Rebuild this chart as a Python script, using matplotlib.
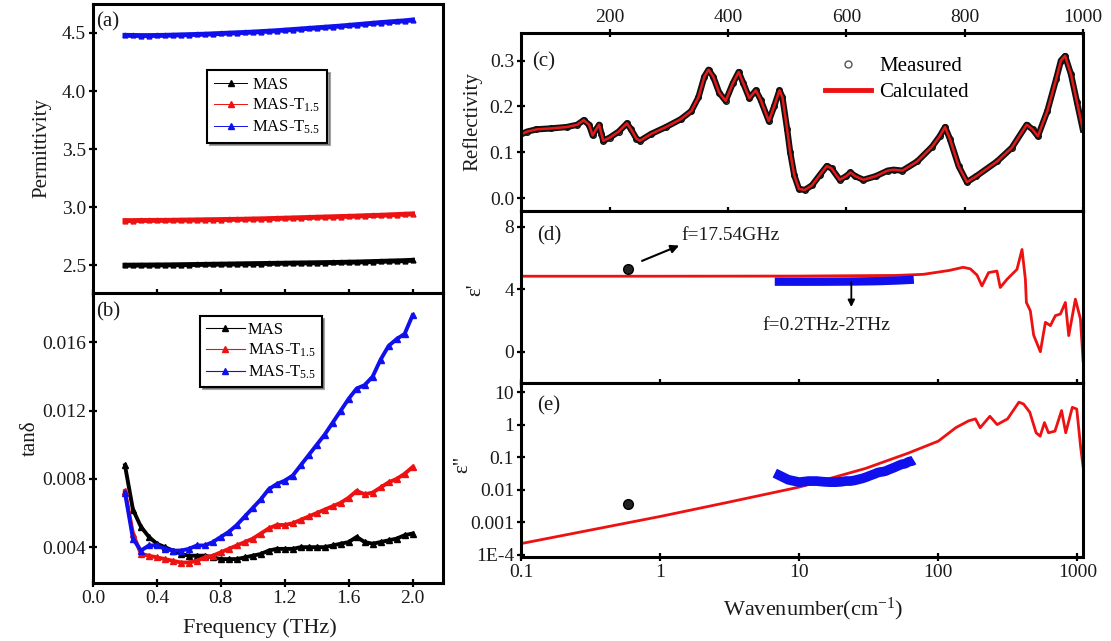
import matplotlib
matplotlib.use('Agg')
import matplotlib.pyplot as plt
from matplotlib.lines import Line2D
from matplotlib.ticker import FixedLocator, NullLocator, FixedFormatter

plt.rcParams['font.family'] = ['Liberation Serif', 'DejaVu Serif']
plt.rcParams['mathtext.fontset'] = 'custom'
plt.rcParams['mathtext.rm'] = 'Liberation Serif'
plt.rcParams['mathtext.it'] = 'Liberation Serif:italic'

# ---------------- data ----------------
freq_thz = [0.20, 0.25, 0.30, 0.35, 0.40, 0.45, 0.50, 0.55, 0.60, 0.65, 0.70, 0.75,
            0.80, 0.85, 0.90, 0.95, 1.00, 1.05, 1.10, 1.15, 1.20, 1.25, 1.30, 1.35,
            1.40, 1.45, 1.50, 1.55, 1.60, 1.65, 1.70, 1.75, 1.80, 1.85, 1.90, 1.95, 2.00]

perm_mas = [2.500, 2.500, 2.501, 2.501, 2.502, 2.502, 2.503, 2.504, 2.505, 2.506, 2.507, 2.508,
            2.509, 2.510, 2.511, 2.512, 2.513, 2.514, 2.515, 2.516, 2.517, 2.518, 2.519, 2.520,
            2.521, 2.522, 2.523, 2.524, 2.526, 2.527, 2.529, 2.531, 2.533, 2.535, 2.537, 2.539, 2.542]
perm_t15 = [2.884, 2.884, 2.885, 2.885, 2.886, 2.886, 2.887, 2.888, 2.889, 2.890, 2.891, 2.892,
            2.893, 2.894, 2.895, 2.896, 2.898, 2.899, 2.901, 2.903, 2.905, 2.907, 2.909, 2.911,
            2.913, 2.915, 2.917, 2.919, 2.921, 2.923, 2.926, 2.928, 2.930, 2.933, 2.936, 2.939, 2.942]
perm_t55 = [4.480, 4.479, 4.478, 4.478, 4.479, 4.480, 4.482, 4.484, 4.486, 4.488, 4.490, 4.493,
            4.496, 4.499, 4.502, 4.505, 4.508, 4.512, 4.516, 4.520, 4.525, 4.530, 4.535, 4.540,
            4.545, 4.550, 4.555, 4.560, 4.566, 4.572, 4.578, 4.584, 4.590, 4.595, 4.600, 4.605, 4.612]

tan_mas = [0.0088, 0.0062, 0.0052, 0.0046, 0.0042, 0.0040, 0.0038, 0.0036, 0.0035, 0.0035, 0.0035, 0.0034,
           0.0033, 0.0033, 0.0033, 0.0034, 0.0035, 0.0036, 0.0038, 0.0039, 0.0039, 0.0039, 0.0040, 0.0040,
           0.0040, 0.0040, 0.0041, 0.0042, 0.0043, 0.0046, 0.0043, 0.0042, 0.0043, 0.0044, 0.0045, 0.0047, 0.0048]
tan_t15 = [0.0073, 0.0048, 0.0036, 0.0035, 0.0034, 0.0033, 0.0032, 0.0031, 0.0031, 0.0032, 0.0034, 0.0035,
           0.0037, 0.0039, 0.0041, 0.0043, 0.0045, 0.0048, 0.0051, 0.0053, 0.0053, 0.0054, 0.0056, 0.0058,
           0.0060, 0.0062, 0.0064, 0.0066, 0.0069, 0.0073, 0.0071, 0.0072, 0.0075, 0.0078, 0.0080, 0.0083, 0.0087]
tan_t55 = [0.0072, 0.0045, 0.0038, 0.0041, 0.0041, 0.0039, 0.0038, 0.0038, 0.0039, 0.0041, 0.0041, 0.0043,
           0.0046, 0.0049, 0.0053, 0.0058, 0.0063, 0.0068, 0.0074, 0.0077, 0.0079, 0.0082, 0.0088, 0.0094,
           0.0100, 0.0106, 0.0113, 0.0120, 0.0127, 0.0133, 0.0135, 0.0140, 0.0150, 0.0158, 0.0162, 0.0165, 0.0176]

series_labels = ['MAS', 'MAS-T$_{1.5}$', 'MAS-T$_{5.5}$']
series_colors = ['black', '#ee1111', '#1010ee']

# (c) reflectivity
refl_wn = [47, 60, 76, 100, 127, 145, 156, 165, 171, 177, 182, 186, 189, 200, 215, 229, 236, 245,
           251, 270, 295, 320, 338, 350, 360, 367, 375, 385, 396, 408, 418, 426, 436, 447, 455,
           469, 478, 487, 492, 500, 505, 512, 520, 530, 542, 555, 567, 575, 589, 600, 607, 615,
           629, 650, 670, 680, 695, 720, 745, 758, 767, 775, 790, 804, 820, 855, 880, 905, 915,
           924, 940, 955, 963, 970, 980, 990, 1000]
refl_val = [0.137, 0.145, 0.150, 0.152, 0.155, 0.160, 0.170, 0.160, 0.137, 0.150, 0.160, 0.140,
            0.125, 0.132, 0.145, 0.163, 0.150, 0.130, 0.125, 0.140, 0.155, 0.172, 0.190, 0.220,
            0.265, 0.280, 0.265, 0.230, 0.212, 0.250, 0.275, 0.250, 0.218, 0.235, 0.215, 0.168,
            0.200, 0.235, 0.220, 0.150, 0.101, 0.050, 0.020, 0.018, 0.028, 0.050, 0.070, 0.065,
            0.040, 0.048, 0.056, 0.048, 0.040, 0.048, 0.060, 0.062, 0.060, 0.080, 0.112, 0.135,
            0.155, 0.130, 0.070, 0.035, 0.048, 0.080, 0.110, 0.160, 0.150, 0.135, 0.190, 0.260,
            0.300, 0.310, 0.270, 0.210, 0.150]

# (d) real permittivity (calculated)
epsr_wn = [0.1, 1, 10, 50, 78, 120, 151, 170, 190, 206, 230, 264, 279, 312, 368, 400, 423, 430,
           459, 485, 542, 589, 640, 695, 755, 820, 867, 968, 1052, 1100]
epsr_val = [4.83, 4.83, 4.84, 4.88, 4.95, 5.20, 5.40, 5.30, 4.90, 4.21, 5.06, 5.16, 4.11, 4.63,
            5.27, 6.54, 4.63, 3.15, 2.62, 1.06, 0.00, 1.88, 1.67, 2.31, 2.41, 3.15, 1.03, 3.36,
            2.10, -0.60]

# (e) imaginary permittivity (calculated)
epsi_wn = [0.1, 0.3, 1, 3, 10, 30, 60, 100, 134, 165, 185, 200, 235, 265, 315, 380, 410, 455,
           505, 540, 580, 620, 690, 770, 825, 920, 990, 1055, 1100]
epsi_val = [2.2e-4, 5.5e-4, 1.5e-3, 4.0e-3, 0.012, 0.045, 0.13, 0.31, 0.81, 1.3, 1.5, 0.8, 1.8,
            1.0, 1.5, 4.9, 4.3, 2.4, 0.56, 0.44, 1.15, 0.56, 0.63, 2.7, 0.56, 3.4, 3.0, 0.21, 0.05]

# microwave point f = 17.54 GHz
mw_wn = 0.585
mw_epsr = 5.3
mw_epsi = 0.0035

THZ_TO_CM = 33.356

# ---------------- figure ----------------
fig = plt.figure(figsize=(11.11, 6.41), dpi=100)
axa = fig.add_axes([0.0837, 0.5429, 0.315, 0.4509])
axb = fig.add_axes([0.0837, 0.0905, 0.315, 0.4524])
axc = fig.add_axes([0.469, 0.6708, 0.5059, 0.2777])
axd = fig.add_axes([0.469, 0.4025, 0.5059, 0.2683])
axe = fig.add_axes([0.469, 0.1310, 0.5059, 0.2715])

TXT = '#1a1a1a'


def style(ax):
    for s in ax.spines.values():
        s.set_linewidth(2.2)
    ax.tick_params(direction='inout', length=6, width=1.6, labelsize=14,
                   labelcolor=TXT, pad=2)


for ax in (axa, axb, axc, axd, axe):
    style(ax)

# (a)
perm_all = [perm_mas, perm_t15, perm_t55]
for vals, c in zip(perm_all, series_colors):
    axa.plot(freq_thz, vals, color=c, lw=3.5, marker='^', ms=3.5)
axa.set_xlim(0, 2.19)
axa.set_ylim(2.26, 4.75)
axa.xaxis.set_major_locator(FixedLocator([0.0, 0.4, 0.8, 1.2, 1.6, 2.0]))
axa.set_xticklabels([])
axa.yaxis.set_major_locator(FixedLocator([2.5, 3.0, 3.5, 4.0, 4.5]))
axa.set_yticklabels(['2.5', '3.0', '3.5', '4.0', '4.5'])
axa.set_ylabel('Permittivity', fontsize=15, color=TXT)
axa.yaxis.set_label_coords(-0.118, 0.5)
axa.text(0.008, 0.938, '(a)', transform=axa.transAxes, fontsize=15, va='center', color=TXT)
h_a = [Line2D([], [], color=c, lw=0.7, marker='^', ms=5) for c in series_colors]
leg = axa.legend(h_a, series_labels, loc='upper left', bbox_to_anchor=(0.303, 0.80),
                 fontsize=12, frameon=True, fancybox=False, shadow=True, edgecolor='black',
                 framealpha=1, handlelength=2.0, borderpad=0.4, labelspacing=0.25,
                 handletextpad=0.3)
leg.get_frame().set_linewidth(1.5)

# (b)
tan_all = [tan_mas, tan_t15, tan_t55]
for vals, c in zip(tan_all, series_colors):
    axb.plot(freq_thz, vals, color=c, lw=2.8, marker='^', ms=4)
axb.set_xlim(0, 2.19)
axb.set_ylim(0.0019, 0.0189)
axb.xaxis.set_major_locator(FixedLocator([0.0, 0.4, 0.8, 1.2, 1.6, 2.0]))
axb.set_xticklabels(['0.0', '0.4', '0.8', '1.2', '1.6', '2.0'])
axb.yaxis.set_major_locator(FixedLocator([0.004, 0.008, 0.012, 0.016]))
axb.set_yticklabels(['0.004', '0.008', '0.012', '0.016'])
axb.set_ylabel('tanδ', fontsize=15, color=TXT)
axb.yaxis.set_label_coords(-0.152, 0.5)
axb.set_xlabel('Frequency (THz)', fontsize=16, color=TXT)
axb.xaxis.set_label_coords(0.477, -0.12)
axb.text(0.008, 0.934, '(b)', transform=axb.transAxes, fontsize=15, va='center', color=TXT)
h_b = [Line2D([], [], color=c, lw=0.8, marker='^', ms=5) for c in series_colors]
leg = axb.legend(h_b, series_labels, loc='upper left', bbox_to_anchor=(0.283, 0.95),
                 fontsize=12, frameon=True, fancybox=False, shadow=True, edgecolor='black',
                 framealpha=1, handlelength=2.3, borderpad=0.35, labelspacing=0.25,
                 handletextpad=0.2)
leg.get_frame().set_linewidth(1.5)

# (c)
axc.plot(refl_wn, refl_val, color='#111111', lw=4.5, marker='o', mfc='none', ms=4, mew=1.0)
axc.plot(refl_wn, refl_val, color='#e41a1a', lw=1.8)
axc.set_xlim(50, 1000.5)
axc.set_ylim(-0.028, 0.36)
axc.xaxis.set_major_locator(FixedLocator([200, 400, 600, 800, 1000]))
axc.xaxis.set_minor_locator(NullLocator())
axc.tick_params(axis='x', top=True, labeltop=True, bottom=True, labelbottom=False)
axc.yaxis.set_major_locator(FixedLocator([0.0, 0.1, 0.2, 0.3]))
axc.set_yticklabels(['0.0', '0.1', '0.2', '0.3'])
axc.set_ylabel('Reflectivity', fontsize=15, color=TXT)
axc.yaxis.set_label_coords(-0.068, 0.5)
axc.text(0.02, 0.84, '(c)', transform=axc.transAxes, fontsize=15, va='center', color=TXT)
h_c = [Line2D([], [], color='#555555', lw=0, marker='o', mfc='none', ms=5),
       Line2D([], [], color='#ee1111', lw=3.5)]
axc.legend(h_c, ['Measured', 'Calculated'], loc='upper left', bbox_to_anchor=(0.515, 0.95),
           fontsize=15, frameon=False, handlelength=2.2, labelspacing=0.3, handletextpad=0.4,
           borderpad=0.2)

# (d)
axd.set_xscale('log')
axd.plot(epsr_wn, epsr_val, color='#ee1111', lw=2)
axd.plot([f * THZ_TO_CM for f in freq_thz], perm_t55, color='#1010ee', lw=6,
         solid_capstyle='butt')
axd.plot([mw_wn], [mw_epsr], 'o', color='black', ms=7, mfc='#222222', mec='black')
axd.set_xlim(0.1, 1100)
axd.set_ylim(-2, 9)
axd.xaxis.set_major_locator(FixedLocator([0.1, 1, 10, 100, 1000]))
axd.xaxis.set_minor_locator(NullLocator())
axd.set_xticklabels([])
axd.yaxis.set_major_locator(FixedLocator([0, 4, 8]))
axd.set_yticklabels(['0', '4', '8'])
axd.set_ylabel("ε'", fontsize=15, color=TXT)
axd.yaxis.set_label_coords(-0.064, 0.54)
axd.text(0.028, 0.855, '(d)', transform=axd.transAxes, fontsize=15, va='center', color=TXT)
axd.annotate('', xy=(1.37, 6.79), xytext=(0.741, 5.81),
             arrowprops=dict(arrowstyle='-|>', color='black', lw=1.5, mutation_scale=12,
                             shrinkA=0, shrinkB=0))
axd.text(1.42, 7.43, 'f=17.54GHz', fontsize=14, va='center', ha='left', color=TXT)
axd.annotate('', xy=(23.7, 2.86), xytext=(23.7, 4.44),
             arrowprops=dict(arrowstyle='-|>', color='black', lw=1.3, mutation_scale=10,
                             shrinkA=0, shrinkB=0))
axd.text(5.42, 1.65, 'f=0.2THz-2THz', fontsize=14, va='center', ha='left', color=TXT)

# (e)
axe.set_xscale('log')
axe.set_yscale('log')
axe.plot(epsi_wn, epsi_val, color='#ee1111', lw=2)
axe.plot([f * THZ_TO_CM for f in freq_thz], [p * t for p, t in zip(perm_t55, tan_t55)],
         color='#1010ee', lw=7, solid_capstyle='butt')
axe.plot([mw_wn], [mw_epsi], 'o', color='black', ms=7, mfc='#222222', mec='black')
axe.set_xlim(0.1, 1100)
axe.set_ylim(8.5e-5, 19)
axe.xaxis.set_major_locator(FixedLocator([0.1, 1, 10, 100, 1000]))
axe.xaxis.set_minor_locator(NullLocator())
axe.xaxis.set_major_formatter(FixedFormatter(['0.1', '1', '10', '100', '1000']))
axe.yaxis.set_major_locator(FixedLocator([1e-4, 1e-3, 1e-2, 0.1, 1, 10]))
axe.yaxis.set_minor_locator(NullLocator())
axe.yaxis.set_major_formatter(FixedFormatter(['1E-4', '0.001', '0.01', '0.1', '1', '10']))
axe.set_ylabel('ε"', fontsize=15, color=TXT)
axe.yaxis.set_label_coords(-0.087, 0.53)
axe.set_xlabel('Wavenumber(cm$^{-1}$)', fontsize=16, color=TXT)
axe.xaxis.set_label_coords(0.52, -0.225)
axe.text(0.028, 0.87, '(e)', transform=axe.transAxes, fontsize=15, va='center', color=TXT)

fig.savefig('out.png', dpi=100)
